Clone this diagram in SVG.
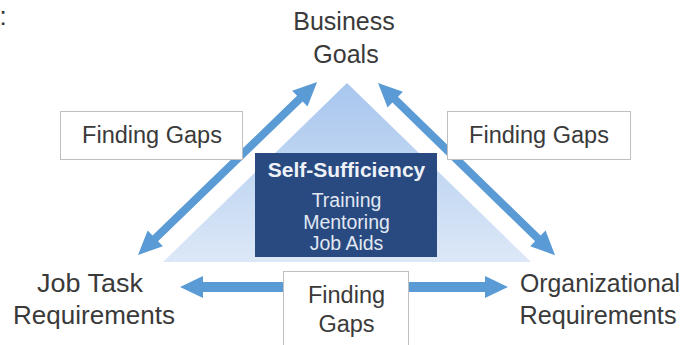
<svg xmlns="http://www.w3.org/2000/svg" width="686" height="345" viewBox="0 0 686 345">
  <defs>
    <linearGradient id="triFill" x1="0" y1="0" x2="0" y2="1">
      <stop offset="0" stop-color="#a8c6ee"/>
      <stop offset="1" stop-color="#dce8f7"/>
    </linearGradient>
  </defs>
  <style>
    .lbl { font-family: "Liberation Sans", Arial, sans-serif; font-size: 25px; fill: #3a3a3a; text-anchor: middle; }
    .gap { fill: #ffffff; stroke: #bfbfbf; stroke-width: 1; }
    .gapTxt { font-family: "Liberation Sans", Arial, sans-serif; font-size: 23.5px; fill: #3a3a3a; text-anchor: middle; }
    .arrow { fill: #5b9bd5; }
    .core { fill: #284a80; }
    .coreTitle { font-family: "Liberation Sans", Arial, sans-serif; font-size: 21px; font-weight: bold; fill: #eef2f8; text-anchor: middle; }
    .coreItem { font-family: "Liberation Sans", Arial, sans-serif; font-size: 19.5px; fill: #e2e8f2; text-anchor: middle; }
  </style>

  <rect width="686" height="345" fill="#ffffff"/>
  <text x="-0.5" y="25" font-family="Liberation Sans, Arial, sans-serif" font-size="26" fill="#333333">:</text>

  <!-- background triangle -->
  <g id="triangle">
    <polygon points="347,83 163,262 531,262" fill="url(#triFill)"/>
  </g>

  <!-- double-headed arrows -->
  <g id="connectors">
    <polygon class="arrow" transform="translate(138,255) rotate(-44)"
      points="0,0 24,-11 24,-4 225,-4 225,-11 249,0 225,11 225,4 24,4 24,11"/>
    <polygon class="arrow" transform="translate(378,83) rotate(44.2)"
      points="0,0 24,-11 24,-4 223,-4 223,-11 247,0 223,11 223,4 24,4 24,11"/>
    <polygon class="arrow" transform="translate(180,287)"
      points="0,0 23,-11 23,-5 305,-5 305,-11 328,0 305,11 305,5 23,5 23,11"/>
  </g>

  <g id="business-goals">
    <text class="lbl" x="344" y="30">Business</text>
    <text class="lbl" x="346" y="63">Goals</text>
  </g>

  <g id="job-task">
    <text class="lbl" x="90" y="292" textLength="106" lengthAdjust="spacingAndGlyphs">Job Task</text>
    <text class="lbl" x="94" y="324" textLength="162" lengthAdjust="spacingAndGlyphs">Requirements</text>
  </g>

  <g id="organizational">
    <text class="lbl" x="600" y="292" textLength="160" lengthAdjust="spacingAndGlyphs">Organizational</text>
    <text class="lbl" x="598" y="324" textLength="157" lengthAdjust="spacingAndGlyphs">Requirements</text>
  </g>

  <g id="self-sufficiency">
    <rect class="core" x="255" y="153" width="182" height="104"/>
    <text class="coreTitle" x="346.5" y="177">Self-Sufficiency</text>
    <text class="coreItem" x="346.5" y="207">Training</text>
    <text class="coreItem" x="346.5" y="229">Mentoring</text>
    <text class="coreItem" x="346.5" y="250">Job Aids</text>
  </g>

  <g id="gaps-left">
    <rect class="gap" x="60.5" y="111.5" width="182" height="48"/>
    <text class="gapTxt" x="152" y="143">Finding Gaps</text>
  </g>

  <g id="gaps-right">
    <rect class="gap" x="447.5" y="111.5" width="183" height="48"/>
    <text class="gapTxt" x="539" y="143">Finding Gaps</text>
  </g>

  <g id="gaps-bottom">
    <rect class="gap" x="283.5" y="271.5" width="125" height="80"/>
    <text class="gapTxt" x="346.5" y="303">Finding</text>
    <text class="gapTxt" x="346.5" y="332">Gaps</text>
  </g>
</svg>
